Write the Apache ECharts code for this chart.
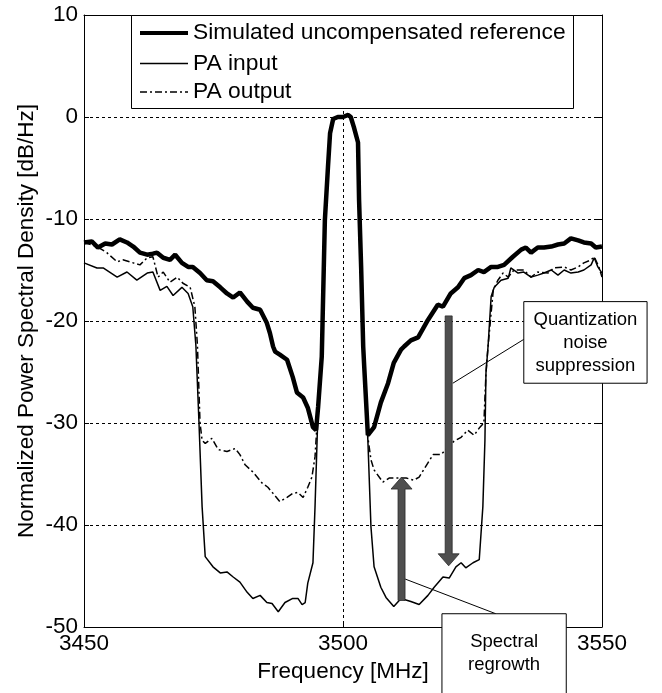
<!DOCTYPE html>
<html><head><meta charset="utf-8">
<script src="https://cdn.jsdelivr.net/npm/echarts@6/dist/echarts.min.js"></script>
<style>html,body{margin:0;padding:0;background:#fff}#c{width:662px;height:693px}</style>
</head><body><div id="c"></div>
<script>
// ---------- data ----------
const xTicks = [3450, 3500, 3550];
const yTicks = [-50, -40, -30, -20, -10, 0, 10];
const seriesNames = ['Simulated uncompensated reference', 'PA input', 'PA output'];
const xName = 'Frequency [MHz]';
const yName = 'Normalized Power Spectral Density [dB/Hz]';

// main lobe shared by all three traces
const mainLobe = [[3495.9,-23.5],[3496.5,-10.1],[3497.1,-4.9],[3497.5,-1.6],[3498.1,-0.2],[3499.0,0.0],[3500.0,0.0],[3501.0,0.2],[3501.5,0.0],[3502.1,-1.0],[3502.9,-2.5],[3503.1,-8.1],[3503.5,-14.7],[3503.9,-22.5]];

const refLeft = [[3450.0,-12.3],[3451.5,-12.2],[3452.7,-12.8],[3454.1,-12.4],[3455.4,-12.5],[3456.9,-12.0],[3458.3,-12.3],[3459.5,-12.7],[3460.8,-13.3],[3462.2,-13.5],[3463.3,-13.4],[3464.1,-13.3],[3465.3,-13.8],[3466.6,-14.0],[3467.6,-13.5],[3468.9,-14.3],[3470.1,-14.7],[3471.0,-14.7],[3472.4,-15.3],[3473.7,-16.0],[3474.9,-16.1],[3476.3,-16.7],[3477.6,-17.3],[3478.8,-17.7],[3480.1,-17.2],[3481.5,-18.1],[3482.6,-18.7],[3484.0,-18.9],[3485.3,-20.2],[3485.9,-21.2],[3486.5,-22.5],[3486.9,-23.0],[3487.8,-23.3],[3489.2,-23.8],[3490.3,-25.5],[3491.1,-27.0],[3492.3,-27.5],[3493.2,-28.5],[3494.2,-30.4],[3494.8,-30.7],[3495.2,-28.4]];
const refRight = [[3504.1,-24.5],[3504.8,-31.2],[3506.0,-30.4],[3507.3,-28.0],[3508.7,-26.1],[3509.8,-24.1],[3511.2,-22.8],[3511.8,-22.5],[3513.1,-21.9],[3514.5,-21.6],[3516.4,-19.9],[3518.3,-18.4],[3519.3,-18.6],[3520.8,-17.3],[3522.2,-16.7],[3523.4,-15.8],[3524.7,-15.5],[3526.1,-15.0],[3527.2,-15.2],[3528.6,-14.7],[3529.9,-14.7],[3531.1,-14.5],[3532.8,-13.7],[3534.4,-13.0],[3535.3,-12.8],[3536.3,-13.3],[3537.6,-12.8],[3538.8,-12.8],[3540.2,-12.7],[3541.5,-12.5],[3542.7,-12.4],[3544.0,-11.9],[3545.4,-12.1],[3546.5,-12.3],[3547.9,-12.4],[3548.8,-12.8],[3550.0,-12.7]];

const inputLeft = [[3450.0,-14.3],[3452.5,-14.8],[3453.7,-14.8],[3456.4,-15.7],[3458.3,-15.2],[3460.2,-16.0],[3462.2,-15.3],[3463.3,-15.2],[3464.7,-17.0],[3466.0,-16.6],[3467.2,-17.5],[3468.9,-16.7],[3470.1,-17.3],[3471.0,-18.6],[3471.6,-22.4],[3472.2,-30.0],[3472.8,-38.2],[3473.4,-43.1],[3474.9,-44.1],[3476.3,-44.7],[3477.6,-44.6],[3478.8,-45.1],[3480.1,-45.6],[3481.5,-46.6],[3482.6,-47.2],[3484.0,-46.9],[3485.3,-47.6],[3486.3,-47.7],[3487.5,-48.5],[3488.8,-47.6],[3490.3,-47.2],[3491.3,-47.2],[3492.1,-47.8],[3492.7,-47.6],[3493.2,-45.7],[3494.2,-43.7],[3494.6,-38.2],[3495.2,-28.4]];
const inputRight = [[3504.8,-31.7],[3505.4,-40.2],[3506.0,-44.1],[3507.3,-46.1],[3508.3,-47.1],[3509.8,-48.0],[3511.2,-47.2],[3513.1,-47.5],[3514.7,-47.8],[3516.4,-46.9],[3517.6,-46.1],[3519.3,-45.1],[3520.5,-45.2],[3521.8,-44.1],[3522.8,-43.7],[3523.7,-44.2],[3525.1,-43.7],[3526.3,-43.4],[3527.0,-38.2],[3527.4,-31.7],[3527.6,-25.1],[3528.0,-22.5],[3528.6,-17.6],[3529.2,-16.7],[3530.5,-16.0],[3531.9,-15.8],[3532.4,-14.8],[3533.8,-15.3],[3534.9,-15.2],[3536.3,-15.7],[3537.6,-15.5],[3538.8,-15.3],[3540.2,-15.0],[3541.5,-15.5],[3542.7,-15.0],[3544.0,-15.3],[3545.4,-15.2],[3546.5,-15.0],[3547.9,-14.5],[3548.5,-13.8],[3549.2,-14.7],[3550.0,-15.3]];

const outputLeft = [[3450.0,-12.3],[3452.5,-12.7],[3454.4,-13.3],[3456.4,-14.2],[3457.5,-14.0],[3459.5,-14.3],[3460.8,-14.5],[3462.2,-13.8],[3463.3,-13.7],[3464.3,-15.7],[3465.3,-15.2],[3466.6,-16.2],[3468.0,-15.7],[3469.1,-16.3],[3470.5,-16.7],[3471.4,-18.6],[3471.9,-22.4],[3472.4,-30.0],[3472.8,-31.7],[3473.4,-32.0],[3474.7,-31.5],[3475.9,-32.6],[3477.6,-32.8],[3479.2,-32.5],[3480.1,-33.1],[3481.1,-34.1],[3482.6,-34.8],[3484.4,-35.9],[3485.5,-36.3],[3486.5,-36.9],[3487.8,-37.7],[3489.2,-37.3],[3490.3,-36.9],[3491.3,-36.8],[3492.3,-37.3],[3493.2,-36.3],[3494.0,-35.3],[3494.6,-33.3],[3495.0,-30.0]];
const outputRight = [[3504.8,-31.4],[3505.4,-33.6],[3506.0,-34.6],[3507.7,-35.8],[3508.9,-35.4],[3510.6,-35.4],[3512.2,-35.4],[3513.7,-35.6],[3514.7,-35.3],[3516.4,-33.9],[3517.4,-33.1],[3518.9,-33.1],[3519.9,-32.6],[3521.4,-31.8],[3522.8,-31.4],[3524.1,-30.7],[3525.3,-31.2],[3526.3,-30.5],[3527.2,-30.0],[3527.6,-25.1],[3528.0,-22.5],[3529.0,-17.0],[3529.9,-16.0],[3530.9,-15.3],[3531.9,-15.7],[3533.0,-15.0],[3534.9,-15.0],[3536.3,-15.7],[3537.6,-15.2],[3539.6,-15.3],[3540.7,-14.8],[3542.7,-14.7],[3544.0,-15.0],[3545.4,-14.7],[3546.5,-14.3],[3547.9,-14.0],[3548.5,-13.7],[3549.4,-14.7],[3550.0,-15.7]];

// annotations (data coordinates)
const quantText = 'Quantization\nnoise\nsuppression';
const regrowthText = 'Spectral\nregrowth';
const downArrow = [[3520.4,-19.5],[3520.4,-44.0]];
const upArrow = [[3511.3,-47.4],[3511.3,-35.3]];
const quantBox = [[3534.9,-18.1],[3558.7,-26.1]];
const quantLeader = [[3534.9,-21.8],[3521.2,-26.1]];
const regrowthBox = [[3519.1,-48.7],[3543.1,-58.0]];
const regrowthLeader = [[3512.0,-45.3],[3529.5,-48.7]];

// ---------- chart ----------
const FONT = '"Liberation Sans", Arial, Helvetica, sans-serif';
const FS = 22.5;
const chart = echarts.init(document.getElementById('c'), null, {renderer: 'canvas'});
const gridLine = {show: true, lineStyle: {color: '#000', width: 1, type: [3, 3]}};
const axisCommon = {
  axisLine: {show: true, onZero: false, lineStyle: {color: '#000', width: 1}},
  axisTick: {show: true, inside: true, length: 5, lineStyle: {color: '#000'}}
};
const lineStyles = [
  {color: '#000', width: 4.5},
  {color: '#000', width: 1.5},
  {color: '#000', width: 1.5, type: [7, 3, 2, 3]}
];
chart.setOption({
  animation: false,
  backgroundColor: '#fff',
  textStyle: {fontFamily: FONT},
  grid: {left: 84, right: 60, top: 15, bottom: 66, containLabel: false},
  xAxis: [
    Object.assign({type: 'value', min: xTicks[0], max: xTicks[xTicks.length-1], interval: 50,
      name: xName, nameLocation: 'middle', nameGap: 33, nameMoveOverlap: false,
      nameTextStyle: {fontSize: FS, color: '#000', fontFamily: FONT},
      axisLabel: {fontSize: FS, color: '#000', margin: 5, fontFamily: FONT, formatter: v => String(v)},
      splitLine: gridLine}, axisCommon),
    Object.assign({type: 'value', position: 'top', min: xTicks[0], max: xTicks[xTicks.length-1], interval: 50,
      axisLabel: {show: false}, splitLine: {show: false}}, axisCommon)
  ],
  yAxis: [
    Object.assign({type: 'value', min: yTicks[0], max: yTicks[yTicks.length-1], interval: 10,
      name: yName, nameLocation: 'middle', nameGap: 46, nameRotate: 90, nameMoveOverlap: false,
      nameTextStyle: {fontSize: FS, color: '#000', fontFamily: FONT},
      axisLabel: {fontSize: FS, color: '#000', margin: 6, fontFamily: FONT, formatter: v => String(v)},
      splitLine: gridLine}, axisCommon),
    Object.assign({type: 'value', position: 'right', min: yTicks[0], max: yTicks[yTicks.length-1], interval: 10,
      axisLabel: {show: false}, splitLine: {show: false}}, axisCommon)
  ],
  series: [
    {name: seriesNames[2], type: 'line', data: [...outputLeft, ...mainLobe, ...outputRight], showSymbol: false, symbol: 'none',
      lineStyle: lineStyles[2], itemStyle: {color: '#000'}, z: 2},
    {name: seriesNames[1], type: 'line', data: [...inputLeft, ...mainLobe, ...inputRight], showSymbol: false, symbol: 'none',
      lineStyle: lineStyles[1], itemStyle: {color: '#000'}, z: 3},
    {name: seriesNames[0], type: 'line', data: [...refLeft, ...mainLobe, ...refRight], showSymbol: false, symbol: 'none',
      lineStyle: lineStyles[0], itemStyle: {color: '#000'}, z: 4}
  ]
});

function px(p) { return chart.convertToPixel({xAxisIndex: 0, yAxisIndex: 0}, p); }
function arrow(pts) {
  const a = px(pts[0]), b = px(pts[1]);
  const x = a[0], y0 = a[1], y1 = b[1], d = y1 > y0 ? 1 : -1;
  const sw = 3.5, hw = 10.5, hl = 12;
  return {type: 'polygon', z: 100, shape: {points: [
    [x - sw, y0], [x + sw, y0], [x + sw, y1 - d * hl], [x + hw, y1 - d * hl], [x, y1], [x - hw, y1 - d * hl], [x - sw, y1 - d * hl]
  ]}, style: {fill: '#4f4f4f', stroke: '#2a2a2a', lineWidth: 0.8}};
}
function box(pts) {
  const a = px(pts[0]), b = px(pts[1]);
  return {type: 'rect', z: 100, shape: {x: Math.min(a[0], b[0]), y: Math.min(a[1], b[1]), width: Math.abs(b[0] - a[0]), height: Math.abs(b[1] - a[1])},
    style: {fill: '#fff', stroke: '#000', lineWidth: 1}};
}
function leader(pts) {
  const a = px(pts[0]), b = px(pts[1]);
  return {type: 'line', z: 100, shape: {x1: a[0], y1: a[1], x2: b[0], y2: b[1]}, style: {stroke: '#000', lineWidth: 1}};
}
function label(text, cx, cy) {
  return {type: 'text', z: 101, x: cx, y: cy, style: {text: text, fill: '#000', font: '18.5px ' + FONT, align: 'center', verticalAlign: 'middle', lineHeight: 23}};
}

// legend (drawn as graphic elements)
const legendEls = [];
const lgLeft = 131, lgTop = 15, lgW = 442, lgH = 93, rowY = [18, 48.5, 77];
legendEls.push({type: 'rect', z: 110, shape: {x: lgLeft + 0.5, y: lgTop + 0.5, width: lgW, height: lgH}, style: {fill: '#fff', stroke: '#000', lineWidth: 1}});
seriesNames.forEach((n, i) => {
  const ls = lineStyles[i];
  legendEls.push({type: 'line', z: 111, shape: {x1: lgLeft + 9, y1: lgTop + rowY[i], x2: lgLeft + 57, y2: lgTop + rowY[i]},
    style: {stroke: ls.color, lineWidth: i === 0 ? 4 : ls.width, lineDash: ls.type || null}});
  legendEls.push({type: 'text', z: 111, x: lgLeft + 62, y: lgTop + rowY[i], style: {text: n, fill: '#000', font: '22.8px ' + FONT, align: 'left', verticalAlign: 'middle'}});
});

const qa = px(quantBox[0]), qb = px(quantBox[1]);
const ra = px(regrowthBox[0]), rb = px(regrowthBox[1]);
chart.setOption({graphic: [
  leader(quantLeader), leader(regrowthLeader),
  arrow(downArrow), arrow(upArrow),
  box(quantBox), box(regrowthBox),
  label(quantText, (qa[0] + qb[0]) / 2, (qa[1] + qb[1]) / 2),
  label(regrowthText, (ra[0] + rb[0]) / 2, ra[1] + 40)
].concat(legendEls)});
</script></body></html>
